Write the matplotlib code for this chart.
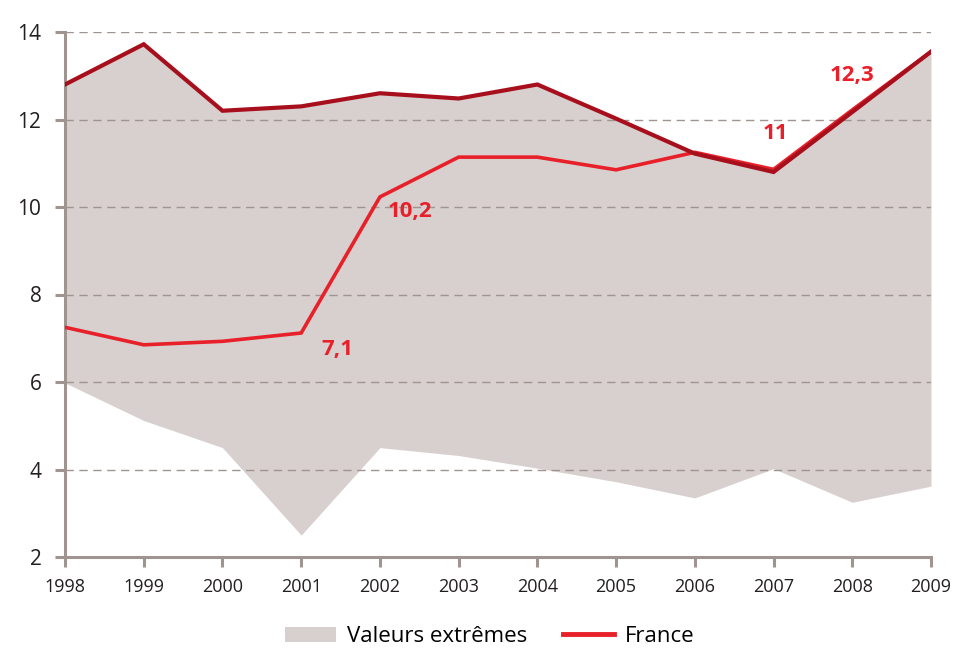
import numpy as np
import matplotlib.pyplot as plt
from matplotlib.patches import Patch
from matplotlib.lines import Line2D

plt.rcParams['font.family'] = ['Open Sans', 'DejaVu Sans']

years = [1998, 1999, 2000, 2001, 2002, 2003, 2004, 2005, 2006, 2007, 2008, 2009]
upper = [12.8, 13.72, 12.2, 12.3, 12.6, 12.48, 12.8, 12.02, 11.22, 10.8, 12.17, 13.55]
lower = [5.98, 5.12, 4.5, 2.5, 4.5, 4.32, 4.03, 3.72, 3.35, 4.02, 3.25, 3.62]
france = [7.25, 6.85, 6.93, 7.12, 10.23, 11.14, 11.14, 10.85, 11.25, 10.86, 12.22, 13.55]

# labels shown on the France line: (year index, text, dx px, dy px)
labels = [(3, "7,1", 36, -16), (4, "10,2", 30, -15), (9, "11", 2, 36), (10, "12,3", 0, 34)]

fill_col = "#d7d0ce"
axis_col = "#a09490"
dark_red = "#a80f1d"
red = "#e8202a"

fig = plt.figure(figsize=(9.6, 6.49), dpi=100)
ax = fig.add_axes([65/960, 1-557/649, (931-65)/960, (557-32)/649])

ax.fill_between(years, lower, upper, color=fill_col, lw=0, zorder=0.3)
ax.plot(years, france, color=red, lw=2.6, zorder=3, solid_joinstyle='miter')
ax.plot(years, upper, color=dark_red, lw=3.0, zorder=4, solid_joinstyle='miter')

for i, txt, dx, dy in labels:
    ax.annotate(txt, (years[i], france[i]), xytext=(dx, dy), textcoords='offset pixels',
                ha='center', va='center', color=red, fontsize=16, fontweight='bold', zorder=5)

ax.set_xlim(1998, 2009)
ax.set_ylim(2, 14)
ax.set_xticks(years)
ax.set_yticks(np.arange(2, 15, 2))
ax.set_axisbelow(True)
for y in range(4, 15, 2):
    ax.axhline(y, color=axis_col, lw=1, dashes=(6, 4), zorder=0.5)

for s in ['top', 'right']:
    ax.spines[s].set_visible(False)
for s in ['left', 'bottom']:
    ax.spines[s].set_color(axis_col)
    ax.spines[s].set_linewidth(2.2)
ax.tick_params(axis='both', colors=axis_col, width=2.2, length=7, labelcolor="#231f20")
ax.tick_params(axis='y', labelsize=15, pad=10)
ax.tick_params(axis='x', labelsize=13, pad=8)

handles = [Patch(facecolor=fill_col, edgecolor='none'),
           Line2D([0], [0], color=red, lw=3.5)]
fig.legend(handles, ["Valeurs extrêmes", "France"], loc='lower center', ncol=2,
           frameon=False, fontsize=16, handlelength=2.3, handletextpad=0.5,
           columnspacing=1.6, bbox_to_anchor=(0.51, -0.028))

fig.savefig("out.png", dpi=100)
